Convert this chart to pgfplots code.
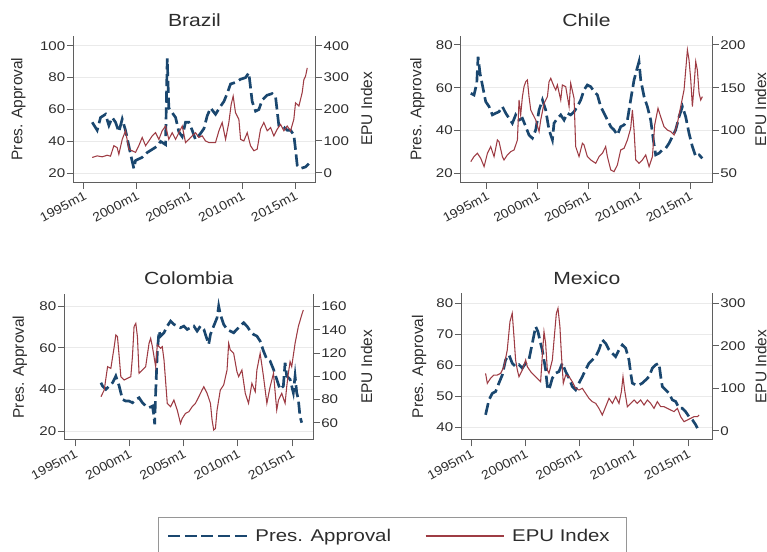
\documentclass[border=0pt]{standalone}
\usepackage{fontspec}
\setmainfont{Liberation Sans}[FakeStretch=1.2]
\newfontfamily\vfont{Liberation Sans}
\newfontfamily\tfont{Liberation Sans}[FakeStretch=1.1]
\usepackage{pgfplots}
\pgfplotsset{compat=1.18}
\definecolor{navy}{RGB}{26,71,111}
\definecolor{maroon}{RGB}{158,60,68}
\definecolor{axc}{RGB}{95,95,95}
\definecolor{txt}{RGB}{45,45,45}
\definecolor{grd}{RGB}{234,234,234}
\definecolor{boxc}{RGB}{150,150,150}
\pgfplotsset{
  base/.style={
    scale only axis, clip=true,
    axis line style={line width=0.75pt, color=axc},
    tick style={line width=0.75pt, color=axc},
    tick align=outside, major tick length=4.8pt,
    minor tick num=0,
    tick label style={color=txt},
    /pgf/number format/assume math mode=true,
    y tick label style={font=\fontsize{9.45}{11}\selectfont, inner sep=1pt},
    every axis y label/.style={rotate=90, anchor=center, font=\vfont\fontsize{11.6}{13}\selectfont, color=txt},
  },
  L/.style={axis y line*=left, axis x line*=bottom, base,
    ymajorgrids, grid style={line width=0.6pt, color=grd},
    xtick={1995,2000,2005,2010,2015},
    xticklabels={1995m1,2000m1,2005m1,2010m1,2015m1},
    x tick label style={font=\tfont\fontsize{9.5}{11}\selectfont, rotate=28, anchor=north east, inner sep=1pt},
    every axis title/.style={at={(axis description cs:0.5,1)}, anchor=base, yshift=6.75pt, font=\fontsize{13.2}{15}\selectfont, color=txt},
    ylabel={Pres. Approval},
  },
  R/.style={axis y line*=right, axis x line=none, base, xtick=\empty, ylabel={EPU Index}},
  appr/.style={navy, line width=2pt, dash pattern=on 9pt off 3.5pt},
  epu/.style={maroon, line width=0.8pt},
}
\begin{document}
\begin{tikzpicture}
% ---------------- Brazil ----------------
\begin{axis}[L, at={(54.975pt,277.275pt)}, anchor=south west, width=181.8pt, height=109.95pt,
  xmin=1994.0, xmax=2016.94, ymin=14.36, ymax=106.3, ytick={20,40,60,80,100},
  title={Brazil}, ylabel style={at={(axis description cs:-0.227,0.5)}}]
\addplot[appr] coordinates {(1995.79,52) (1996.26,47) (1996.58,55) (1997.05,57) (1997.37,50) (1997.68,55) (1998.0,52) (1998.31,46) (1998.63,54) (1998.94,47) (1999.1,42) (1999.42,32) (1999.73,23) (1999.89,28) (2000.2,29) (2000.52,30) (2000.99,33) (2001.47,35) (2001.94,37) (2002.26,40) (2002.73,38) (2002.89,92) (2003.04,61) (2003.36,58) (2003.68,55) (2003.99,46) (2004.31,43) (2004.62,52) (2004.94,52) (2005.25,47) (2005.57,41) (2006.04,45) (2006.36,48) (2006.67,56) (2006.99,61) (2007.46,57) (2007.93,62) (2008.25,65) (2008.56,70) (2008.88,76) (2009.35,77) (2009.83,79) (2010.3,80) (2010.61,83) (2010.93,65) (2011.25,59) (2011.56,60) (2011.88,66) (2012.35,69) (2012.82,70) (2013.14,68) (2013.45,50) (2013.93,49) (2014.24,47) (2014.56,47) (2014.87,44) (2015.03,35) (2015.19,25) (2015.5,23) (2015.98,24) (2016.29,26)};
\end{axis}
\begin{axis}[R, at={(54.975pt,277.275pt)}, anchor=south west, width=181.8pt, height=109.95pt,
  xmin=1994.0, xmax=2016.94, ymin=-30.2, ymax=431.5, ytick={0,100,200,300,400},
  ylabel style={at={(axis description cs:1.21,0.5)}}]
\addplot[epu] coordinates {(1995.79,48) (1996.26,53) (1996.74,50) (1997.21,55) (1997.52,52) (1997.84,85) (1998.15,79) (1998.31,58) (1998.63,105) (1998.94,132) (1999.26,74) (1999.57,69) (1999.89,64) (2000.2,85) (2000.52,111) (2000.84,85) (2001.15,100) (2001.47,116) (2001.78,126) (2002.1,105) (2002.41,132) (2002.73,147) (2003.04,105) (2003.36,126) (2003.68,105) (2003.99,126) (2004.31,147) (2004.62,95) (2004.94,105) (2005.25,116) (2005.57,126) (2005.88,111) (2006.2,116) (2006.51,100) (2006.83,95) (2007.15,95) (2007.46,95) (2007.78,132) (2008.09,158) (2008.41,105) (2008.72,158) (2008.94,215) (2009.13,241) (2009.35,189) (2009.67,168) (2009.83,105) (2010.14,100) (2010.46,126) (2010.77,85) (2011.09,69) (2011.4,74) (2011.72,137) (2012.03,158) (2012.35,132) (2012.67,142) (2012.98,116) (2013.3,137) (2013.61,152) (2013.93,132) (2014.24,147) (2014.56,132) (2014.87,168) (2015.03,220) (2015.35,210) (2015.66,252) (2015.82,293) (2015.98,304) (2016.14,330)};
\end{axis}
% ---------------- Chile ----------------
\begin{axis}[L, at={(345.525pt,276.975pt)}, anchor=south west, width=188.7pt, height=110.025pt,
  xmin=1992.44, xmax=2017.19, ymin=15.6, ymax=84.2, ytick={20,40,60,80},
  title={Chile}, ylabel style={at={(axis description cs:-0.1725,0.5)}}]
\addplot[appr] coordinates {(1993.43,57.4) (1993.75,56.6) (1994.02,62.1) (1994.15,74.5) (1994.34,66.8) (1994.57,61.3) (1994.9,53.5) (1995.23,51.2) (1995.56,47.3) (1995.89,48.1) (1996.21,48.8) (1996.54,51.2) (1996.87,48.1) (1997.2,45.7) (1997.52,43.4) (1997.85,47.3) (1998.18,44.9) (1998.51,45.7) (1998.84,41.8) (1999.16,37.9) (1999.49,36.4) (1999.82,40.3) (2000.15,49.6) (2000.48,54.3) (2000.8,49.6) (2001.13,40.3) (2001.46,35.6) (2001.62,43.4) (2001.95,45.7) (2002.28,47.3) (2002.61,44.9) (2002.93,48.1) (2003.26,47.3) (2003.59,48.8) (2003.92,51.2) (2004.25,54.3) (2004.57,59.0) (2004.9,61.3) (2005.23,60.5) (2005.56,58.2) (2005.89,56.6) (2006.21,51.2) (2006.54,48.1) (2006.87,44.9) (2007.2,41.8) (2007.52,40.3) (2007.85,37.9) (2008.18,41.8) (2008.51,42.6) (2008.84,44.9) (2009.16,54.3) (2009.49,63.6) (2009.75,68.3) (2009.98,72.2) (2010.15,63.6) (2010.48,55.8) (2010.8,51.2) (2011.13,44.9) (2011.39,35.6) (2011.62,28.6) (2011.95,29.4) (2012.28,30.9) (2012.61,31.7) (2012.93,34.0) (2013.26,37.1) (2013.59,40.3) (2013.92,46.5) (2014.25,51.2) (2014.57,46.5) (2014.9,38.7) (2015.23,32.5) (2015.56,27.8) (2015.89,28.6) (2016.21,27.0)};
\end{axis}
\begin{axis}[R, at={(345.525pt,276.975pt)}, anchor=south west, width=188.7pt, height=110.025pt,
  xmin=1992.44, xmax=2017.19, ymin=39.0, ymax=210.5, ytick={50,100,150,200},
  ylabel style={at={(axis description cs:1.1924,0.5)}}]
\addplot[epu] coordinates {(1993.43,63.6) (1993.75,69.5) (1994.08,73.4) (1994.41,67.5) (1994.74,57.8) (1995.07,73.4) (1995.39,81.2) (1995.72,69.5) (1996.05,89.0) (1996.21,87.0) (1996.54,69.5) (1996.7,65.6) (1997.03,71.4) (1997.36,75.3) (1997.69,77.3) (1998.02,89.0) (1998.18,135.7) (1998.34,118.2) (1998.51,139.6) (1998.67,151.3) (1998.84,157.1) (1999.0,159.1) (1999.16,139.6) (1999.33,124.0) (1999.49,120.1) (1999.82,112.3) (2000.15,98.7) (2000.31,112.3) (2000.64,131.8) (2000.97,139.6) (2001.13,157.1) (2001.3,161.0) (2001.62,151.3) (2001.79,147.4) (2001.95,153.2) (2002.28,135.7) (2002.44,153.2) (2002.77,151.3) (2003.1,127.9) (2003.26,155.2) (2003.59,137.7) (2003.75,81.2) (2004.08,69.5) (2004.41,85.1) (2004.57,83.1) (2004.9,69.5) (2005.23,65.6) (2005.72,61.7) (2006.05,69.5) (2006.38,73.4) (2006.7,81.2) (2006.87,69.5) (2007.2,53.9) (2007.52,51.9) (2007.85,59.7) (2008.18,77.3) (2008.51,79.2) (2008.84,89.0) (2009.16,102.6) (2009.33,124.0) (2009.49,100.6) (2009.66,65.6) (2009.98,61.7) (2010.31,65.6) (2010.64,71.4) (2010.97,57.8) (2011.3,69.5) (2011.52,106.5) (2011.85,126.0) (2012.11,116.2) (2012.44,104.5) (2012.77,100.6) (2013.1,98.7) (2013.43,94.8) (2013.75,108.4) (2014.08,127.9) (2014.41,147.4) (2014.74,194.2) (2014.9,182.5) (2015.07,159.1) (2015.23,127.9) (2015.39,151.3) (2015.56,180.5) (2015.72,170.8) (2015.89,143.5) (2016.05,135.7) (2016.21,139.6)};
\end{axis}
% ---------------- Colombia ----------------
\begin{axis}[L, at={(48.225pt,84pt)}, anchor=south west, width=186.75pt, height=109.5pt,
  xmin=1994.01, xmax=2016.96, ymin=15.7, ymax=85.8, ytick={20,40,60,80},
  title={Colombia}, ylabel style={at={(axis description cs:-0.178,0.5)}}]
\addplot[appr] coordinates {(1997.39,43.2) (1997.54,41.6) (1997.84,40) (1998.15,41.6) (1998.46,43.2) (1998.76,46.4) (1999.07,41.6) (1999.37,35.2) (1999.68,34.4) (1999.98,34.4) (2000.29,33.6) (2000.6,35.2) (2000.9,36) (2001.21,33.6) (2001.51,32) (2001.82,31.2) (2002.13,32) (2002.28,27.2) (2002.34,23.2) (2002.43,38.4) (2002.58,57.6) (2002.74,68) (2002.89,65.6) (2003.2,67.2) (2003.5,70.4) (2003.81,72.8) (2004.11,71.2) (2004.42,70.4) (2004.72,69.6) (2005.03,70.4) (2005.34,68.8) (2005.64,69.6) (2005.95,70.4) (2006.25,68) (2006.56,70.4) (2006.87,68.8) (2007.17,64) (2007.32,61.6) (2007.48,66.4) (2007.78,70.4) (2008.09,74.4) (2008.24,80) (2008.39,76) (2008.7,71.2) (2009.01,68.8) (2009.31,68) (2009.62,67.2) (2009.92,68.8) (2010.23,70.4) (2010.54,72) (2010.84,70.4) (2011.15,68) (2011.45,66.4) (2011.76,65.6) (2012.06,63.2) (2012.37,58.4) (2012.68,54.4) (2012.98,53.6) (2013.29,49.6) (2013.59,44.8) (2013.9,40) (2014.2,41.6) (2014.36,52.8) (2014.51,46.4) (2014.82,44.8) (2015.12,38.4) (2015.28,46.4) (2015.43,38.4) (2015.58,35.2) (2015.73,27.2) (2015.89,24)};
\end{axis}
\begin{axis}[R, at={(48.225pt,84pt)}, anchor=south west, width=186.75pt, height=109.5pt,
  xmin=1994.01, xmax=2016.96, ymin=45.1, ymax=170.9, ytick={60,80,100,120,140,160},
  ylabel style={at={(axis description cs:1.2145,0.5)}},
  legend image code/.code={\draw[#1] (0pt,0pt) -- (59pt,0pt);},
  legend style={at={(axis description cs:0.4104,-0.6575)}, anchor=west, draw=none, fill=none, inner sep=0pt,
    font=\fontsize{12.75}{14}\selectfont, text=txt, nodes={inner sep=0pt},
    legend columns=2,
    /tikz/every odd column/.append style={column sep=5.5pt},
    /tikz/every even column/.append style={column sep=25.5pt}}]
\addlegendimage{appr}
\addlegendentry{Pres. Approval}
\addplot[epu] coordinates {(1997.39,82.4) (1997.69,88.2) (1998.0,108.3) (1998.3,106.8) (1998.61,125.5) (1998.76,135.6) (1998.91,134.1) (1999.07,116.9) (1999.22,99.7) (1999.53,96.8) (1999.83,98.2) (2000.14,99.7) (2000.29,116.9) (2000.44,142.8) (2000.6,145.6) (2000.75,134.1) (2000.9,102.5) (2001.21,105.4) (2001.51,108.3) (2001.82,128.4) (2001.97,132.7) (2002.13,125.5) (2002.43,108.3) (2002.58,127.0) (2002.89,124.1) (2003.04,125.5) (2003.2,114.0) (2003.5,76.7) (2003.81,73.8) (2004.11,79.5) (2004.42,70.9) (2004.72,59.4) (2004.88,63.7) (2005.18,68.0) (2005.49,69.5) (2005.8,73.8) (2006.1,76.7) (2006.41,82.4) (2006.71,88.2) (2006.87,91.0) (2007.17,85.3) (2007.48,76.7) (2007.63,62.3) (2007.78,53.7) (2007.94,55.1) (2008.09,70.9) (2008.39,88.2) (2008.7,92.5) (2009.01,105.4) (2009.16,128.4) (2009.31,122.6) (2009.62,119.8) (2009.92,104.0) (2010.08,99.7) (2010.38,105.4) (2010.69,85.3) (2010.99,76.7) (2011.3,93.9) (2011.61,86.7) (2011.76,105.4) (2012.06,119.8) (2012.37,99.7) (2012.68,76.7) (2012.98,91.0) (2013.29,102.5) (2013.59,70.9) (2013.75,79.5) (2014.05,85.3) (2014.36,76.7) (2014.51,91.0) (2014.66,102.5) (2014.82,112.6) (2014.97,108.3) (2015.28,128.4) (2015.58,142.8) (2015.89,152.8) (2016.04,157.1)};
\addlegendentry{EPU Index}
\end{axis}
% ---------------- Mexico ----------------
\begin{axis}[L, at={(345.975pt,84pt)}, anchor=south west, width=188.25pt, height=110.025pt,
  xmin=1994.08, xmax=2017.24, ymin=36.0, ymax=83.2, ytick={40,50,60,70,80},
  title={Mexico}, ylabel style={at={(axis description cs:-0.1685,0.5)}}]
\addplot[appr] coordinates {(1996.32,44.1) (1996.63,48.9) (1996.94,51.0) (1997.25,51.6) (1997.55,54.3) (1997.86,56.9) (1998.17,61.8) (1998.48,63.4) (1998.78,60.7) (1999.09,59.6) (1999.4,60.2) (1999.71,59.1) (2000.02,60.7) (2000.32,61.8) (2000.63,67.1) (2000.94,72.5) (2001.15,70.9) (2001.4,67.1) (2001.55,65.0) (2001.86,58.6) (2002.02,53.2) (2002.17,52.1) (2002.48,55.9) (2002.78,57.5) (2003.09,58.0) (2003.4,60.7) (2003.71,58.0) (2004.02,55.9) (2004.32,53.2) (2004.63,52.1) (2004.94,54.3) (2005.25,56.4) (2005.55,58.6) (2005.86,60.7) (2006.17,61.8) (2006.48,62.8) (2006.78,65.0) (2007.09,68.2) (2007.4,67.1) (2007.71,65.0) (2008.02,63.9) (2008.32,62.8) (2008.63,65.0) (2008.94,66.6) (2009.25,65.5) (2009.55,61.8) (2009.71,57.5) (2009.86,54.3) (2010.17,53.7) (2010.48,53.7) (2010.78,54.3) (2011.09,55.3) (2011.4,56.4) (2011.71,59.1) (2012.02,60.2) (2012.32,60.7) (2012.48,56.4) (2012.63,53.2) (2012.94,52.1) (2013.25,51.0) (2013.55,48.9) (2013.86,48.4) (2014.17,46.2) (2014.48,46.2) (2014.78,45.1) (2015.09,43.5) (2015.4,42.5) (2015.71,40.9) (2015.86,39.8)};
\end{axis}
\begin{axis}[R, at={(345.975pt,84pt)}, anchor=south west, width=188.25pt, height=110.025pt,
  xmin=1994.08, xmax=2017.24, ymin=-21.9, ymax=323.5, ytick={0,100,200,300},
  ylabel style={at={(axis description cs:1.193,0.5)}}]
\addplot[epu] coordinates {(1996.32,135.0) (1996.48,111.5) (1996.78,123.3) (1997.09,131.0) (1997.4,131.0) (1997.71,135.0) (1998.02,150.8) (1998.32,190.0) (1998.57,256.8) (1998.78,276.4) (1998.94,221.5) (1999.09,166.5) (1999.25,142.9) (1999.4,127.2) (1999.71,142.9) (2000.02,166.5) (2000.17,150.8) (2000.48,139.0) (2000.78,131.0) (2001.09,123.3) (2001.4,115.4) (2001.55,174.3) (2001.71,233.2) (2001.86,205.8) (2002.02,142.9) (2002.17,135.0) (2002.48,166.5) (2002.69,229.3) (2002.85,276.4) (2003.0,288.2) (2003.18,245.0) (2003.31,182.2) (2003.49,111.5) (2003.71,131.0) (2004.02,127.2) (2004.32,115.4) (2004.63,99.7) (2004.94,95.8) (2005.25,99.7) (2005.55,88.0) (2005.86,76.2) (2006.17,68.3) (2006.48,64.4) (2006.78,52.6) (2007.09,36.9) (2007.4,56.5) (2007.71,76.2) (2008.02,64.4) (2008.32,80.1) (2008.63,64.4) (2008.85,91.9) (2009.0,127.2) (2009.15,95.8) (2009.4,56.5) (2009.71,64.4) (2010.02,72.2) (2010.32,64.4) (2010.63,72.2) (2010.94,60.5) (2011.25,72.2) (2011.55,64.4) (2011.86,52.6) (2012.17,68.3) (2012.48,56.5) (2012.78,56.5) (2013.09,52.6) (2013.4,48.7) (2013.71,44.8) (2014.02,52.6) (2014.32,33.0) (2014.63,21.2) (2014.94,25.1) (2015.25,29.1) (2015.55,33.0) (2015.86,33.0) (2016.02,36.9)};
\end{axis}
% legend frame
\draw[line width=0.75pt, color=boxc] (118.5pt,25.7pt) rectangle (469.5pt,-20pt);
\pgfresetboundingbox
\useasboundingbox (0pt,0pt) rectangle (575.25pt,414pt);
\end{tikzpicture}
\end{document}
